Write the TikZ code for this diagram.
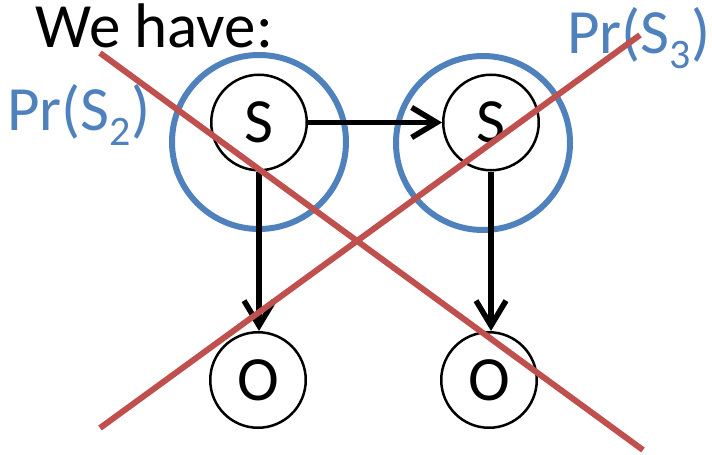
\documentclass[tikz,border=0pt]{standalone}
\usepackage{fontspec}
\setmainfont{Carlito}
\usetikzlibrary{arrows.meta}
\definecolor{pblue}{HTML}{4F81BD}
\definecolor{pred}{HTML}{C0504D}
\begin{document}
\begin{tikzpicture}[x=1pt,y=-1pt,
 var/.style={circle,draw=black,fill=white,line width=2.5pt,minimum size=95.5pt,inner sep=0pt,font=\fontsize{63}{70}\selectfont},
 halo/.style={circle,draw=pblue,line width=6pt,minimum size=174pt,inner sep=0pt},
 edge/.style={draw=black,line width=5.5pt,-{Straight Barb[length=25pt,width=30pt]}},
 cross/.style={draw=pred,line width=6pt},
 lbl/.style={inner sep=0pt,anchor=base west,font=\fontsize{63}{70}\selectfont}]
\useasboundingbox (0,0) rectangle (712,455);
% blue halos
\node[halo] (h1) at (259,142) {};
\node[halo] (h2) at (483,143) {};
% variables
\node[var] (s1) at (259,122.5) {S};
\node[var] (s2) at (491,122.5) {S};
\node[var] (o1) at (258,380) {O};
\node[var] (o2) at (489,380) {O};
% arrows
\draw[edge] (s1.east) -- (s2.west);
\draw[edge] (s1.south) -- (s1.south |- o1.north);
\draw[edge] (s2.south) -- (s2.south |- o2.north);
% texts
\node[lbl] (title) at (35,47) {We have:};
\node[lbl,text=pblue] (p2) at (7,130) {Pr(S\raisebox{-15pt}{\fontsize{42}{42}\selectfont 2})};
\node[lbl,text=pblue] (p3) at (567,53) {Pr(S\raisebox{-15pt}{\fontsize{42}{42}\selectfont 3})};
% red crosses
\coordinate (a1) at (100,53);
\coordinate (a2) at (643,450);
\coordinate (b1) at (100,428);
\coordinate (b2) at (640,35);
\draw[cross] (a1) -- (a2);
\draw[cross] (b1) -- (b2);
\end{tikzpicture}
\end{document}
